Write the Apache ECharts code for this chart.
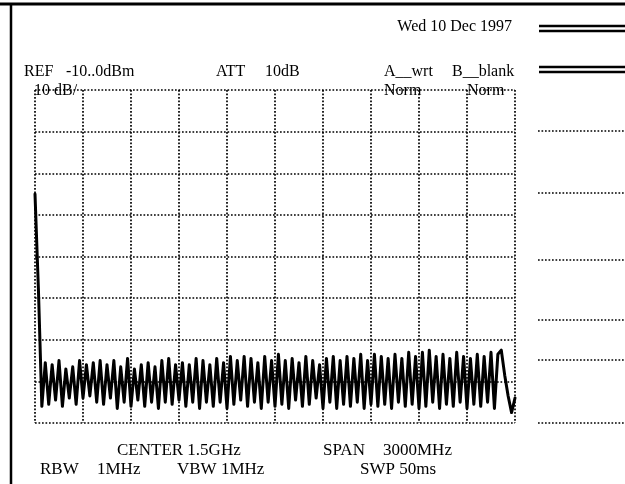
<!DOCTYPE html>
<html>
<head>
<meta charset="utf-8">
<script src="https://cdn.jsdelivr.net/npm/echarts@6/dist/echarts.min.js"></script>
<style>
  html, body { margin: 0; padding: 0; background: #fff; }
  #chart { width: 625px; height: 484px; }
</style>
</head>
<body>
<div id="chart"></div>
<script>
// trace levels in dBm, one point per sweep step (141 steps across 3000 MHz span)
const levels = [
  -35.0, -58.0,
  -86.0, -75.5, -85.5, -76.0, -84.5, -75.0, -86.0, -77.0, -84.0, -76.5, -85.5, -75.0, -84.0,
  -76.0, -83.5, -75.5, -85.0, -75.0, -85.5, -76.0, -84.0, -75.0, -86.5, -76.5, -85.0, -74.5, -86.0,
  -77.0, -84.5, -76.0, -86.0, -75.5, -85.0, -76.5, -86.5, -75.0, -85.0, -74.5, -85.5, -76.0, -84.5,
  -75.5, -86.0, -76.0, -85.0, -74.5, -86.5, -75.0, -85.0, -76.0, -86.0, -74.5, -85.0, -75.5, -86.5,
  -74.0, -85.5, -75.0, -84.5, -74.0, -86.0, -74.5, -85.0, -75.5, -86.5, -74.0, -85.0, -75.0, -86.0,
  -73.5, -85.5, -75.0, -86.5, -74.5, -84.5, -75.5, -86.0, -74.0, -85.5, -75.0, -84.0, -76.0, -86.5,
  -74.5, -85.0, -74.0, -86.5, -75.0, -85.5, -74.0, -86.0, -74.5, -85.0, -73.5, -86.5, -75.0, -85.5,
  -73.5, -86.0, -74.0, -85.5, -74.5, -86.5, -73.5, -85.0, -74.5, -86.0, -73.0, -85.5, -74.0, -86.5,
  -73.0, -86.0, -72.5, -85.0, -74.0, -86.5, -73.5, -85.5, -74.5, -86.0, -73.0, -85.0, -74.0, -86.5,
  -74.5, -85.5, -73.5, -86.0, -74.0, -85.0, -73.0, -86.5, -73.5, -72.5, -78.5, -83.5, -87.5, -84.0
];
const steps = levels.map((v, i) => i);

// y scale: REF -10 dBm, 10 dB/div, 8 divisions
const refLevel = -10;
const bottomLevel = -90;
const dbPerDiv = 10;

const headerTexts = [
  { text: 'Wed 10 Dec 1997', x: 512, y: 27, align: 'right' },
  { text: 'REF', x: 24, y: 72 },
  { text: '-10..0dBm', x: 66, y: 72 },
  { text: 'ATT', x: 216, y: 72 },
  { text: '10dB', x: 265, y: 72 },
  { text: 'A__wrt', x: 384, y: 72 },
  { text: 'B__blank', x: 452, y: 72 },
  { text: '10 dB/', x: 34, y: 91 },
  { text: 'Norm', x: 384, y: 91 },
  { text: 'Norm', x: 467, y: 91 }
];
const footerTexts = [
  { text: 'CENTER 1.5GHz', x: 117, y: 451 },
  { text: 'SPAN', x: 323, y: 451 },
  { text: '3000MHz', x: 383, y: 451 },
  { text: 'RBW', x: 40, y: 470 },
  { text: '1MHz', x: 97, y: 470 },
  { text: 'VBW 1MHz', x: 177, y: 470 },
  { text: 'SWP 50ms', x: 360, y: 470 }
];
const sideRules = [131, 193, 260, 320, 360, 423];

const dots = [1.7, 1.8];
const myChart = echarts.init(document.getElementById('chart'));

const graphics = [];
headerTexts.forEach(t => graphics.push({
  type: 'text', x: t.x, y: t.y, z: 10,
  style: { text: t.text, fill: '#000', font: '16px "Liberation Serif"',
           textAlign: t.align || 'left', textVerticalAlign: 'middle' }
}));
footerTexts.forEach(t => graphics.push({
  type: 'text', x: t.x, y: t.y,
  style: { text: t.text, fill: '#000', font: '17px "Liberation Serif"', textVerticalAlign: 'middle' }
}));
// frame lines
graphics.push({ type: 'line', shape: { x1: 0, y1: 4, x2: 625, y2: 4 }, style: { stroke: '#000', lineWidth: 3 } });
graphics.push({ type: 'line', shape: { x1: 11, y1: 4, x2: 11, y2: 484 }, style: { stroke: '#000', lineWidth: 2.5 } });
[26, 31, 67, 72].forEach(y => graphics.push({
  type: 'line', shape: { x1: 539, y1: y, x2: 625, y2: y }, style: { stroke: '#000', lineWidth: 2.5 }
}));
sideRules.forEach(y => graphics.push({
  type: 'line', shape: { x1: 538, y1: y, x2: 625, y2: y }, style: { stroke: '#000', lineWidth: 1.5, lineDash: dots }
}));

const option = {
  animation: false,
  backgroundColor: '#fff',
  grid: { left: 35, right: 110, top: 90, bottom: 61 },
  xAxis: {
    type: 'category',
    data: steps,
    boundaryGap: false,
    axisLine: { show: false },
    axisTick: { show: false },
    axisLabel: { show: false },
    splitLine: {
      show: true,
      interval: (i) => i % 14 === 0,
      lineStyle: { color: '#000', width: 1.7, type: dots }
    }
  },
  yAxis: {
    type: 'value',
    min: bottomLevel,
    max: refLevel,
    interval: dbPerDiv,
    axisLine: { show: false },
    axisTick: { show: false },
    axisLabel: { show: false },
    splitLine: { show: true, lineStyle: { color: '#000', width: 1.7, type: dots } }
  },
  series: [
    {
      type: 'line',
      data: levels,
      symbol: 'none',
      lineStyle: { color: '#000', width: 3, join: 'round', cap: 'round' }
    }
  ],
  graphic: graphics
};

myChart.setOption(option);
</script>
</body>
</html>
